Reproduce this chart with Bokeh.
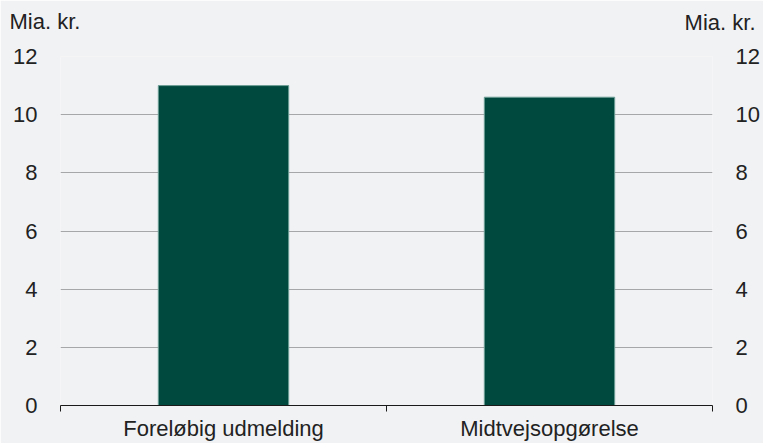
from bokeh.plotting import figure
from bokeh.models import Range1d, FixedTicker, LinearAxis, Label, ColumnDataSource, Title
from bokeh.embed import file_html
from bokeh.resources import INLINE

# ---- data ----
categories = ["Foreløbig udmelding", "Midtvejsopgørelse"]
values = [11.0, 10.6]
y_ticks = [0, 2, 4, 6, 8, 10, 12]
unit_label = "Mia. kr."

# ---- style ----
BG = "#f1f2f4"
BAR = "#00493e"
BAR_EDGE = "#6f9f97"
GRID = "#a5a7a9"
TEXT = "#222222"
FONT = "Liberation Sans"
FS = "22px"

x_pos = [i + 0.5 for i in range(len(categories))]
boundaries = [i for i in range(len(categories) + 1)]
src = ColumnDataSource(dict(x=x_pos, top=values, cat=categories))

p = figure(width=763, height=443, output_backend="svg", toolbar_location=None,
           x_range=Range1d(0, len(categories)), y_range=Range1d(0, y_ticks[-1]),
           min_border_left=60, min_border_right=51, min_border_top=56,
           min_border_bottom=34)
p.background_fill_color = BG
p.border_fill_color = BG
p.outline_line_color = None

p.vbar(x="x", top="top", width=0.4, bottom=0, source=src,
       fill_color=BAR, line_color=BAR_EDGE, line_width=1)

# grid
p.xgrid.visible = False
p.ygrid.ticker = FixedTicker(ticks=y_ticks)
p.ygrid.grid_line_color = GRID
p.ygrid.grid_line_width = 1

# x axis
xa = p.xaxis[0]
xa.ticker = FixedTicker(ticks=x_pos, minor_ticks=boundaries)
xa.major_label_overrides = {x: c for x, c in zip(x_pos, categories)}
xa.major_tick_line_color = None
xa.major_tick_out = 0
xa.major_tick_in = 0
xa.minor_tick_line_color = "#1a1a1a"
xa.minor_tick_out = 6
xa.minor_tick_in = 0
xa.axis_line_color = "#1a1a1a"
xa.axis_line_width = 1
xa.major_label_standoff = 4
xa.major_label_text_font = FONT
xa.major_label_text_font_size = FS
xa.major_label_text_color = TEXT

# y axes
ya = p.yaxis[0]
ya_r = LinearAxis()
p.add_layout(ya_r, "right")
for ax in (ya, ya_r):
    ax.ticker = FixedTicker(ticks=y_ticks)
    ax.axis_line_color = None
    ax.major_tick_line_color = None
    ax.major_tick_out = 0
    ax.major_tick_in = 0
    ax.minor_tick_line_color = None
    ax.minor_tick_out = 0
    ax.major_label_standoff = 23
    ax.major_label_text_font = FONT
    ax.major_label_text_font_size = FS
    ax.major_label_text_color = TEXT

# unit labels (right one first: nearest panel to the frame)
p.add_layout(Label(x=695, y=34, x_units="screen", y_units="screen", text=unit_label,
                   text_align="right", text_baseline="middle",
                   text_font=FONT, text_font_size=FS, text_color=TEXT), "above")
p.add_layout(Title(text=unit_label, align="left", offset=-51, standoff=-4,
                   text_font=FONT, text_font_size=FS, text_color=TEXT,
                   text_font_style="normal"), "above")

open("out.html", "w").write(file_html(p, INLINE))
